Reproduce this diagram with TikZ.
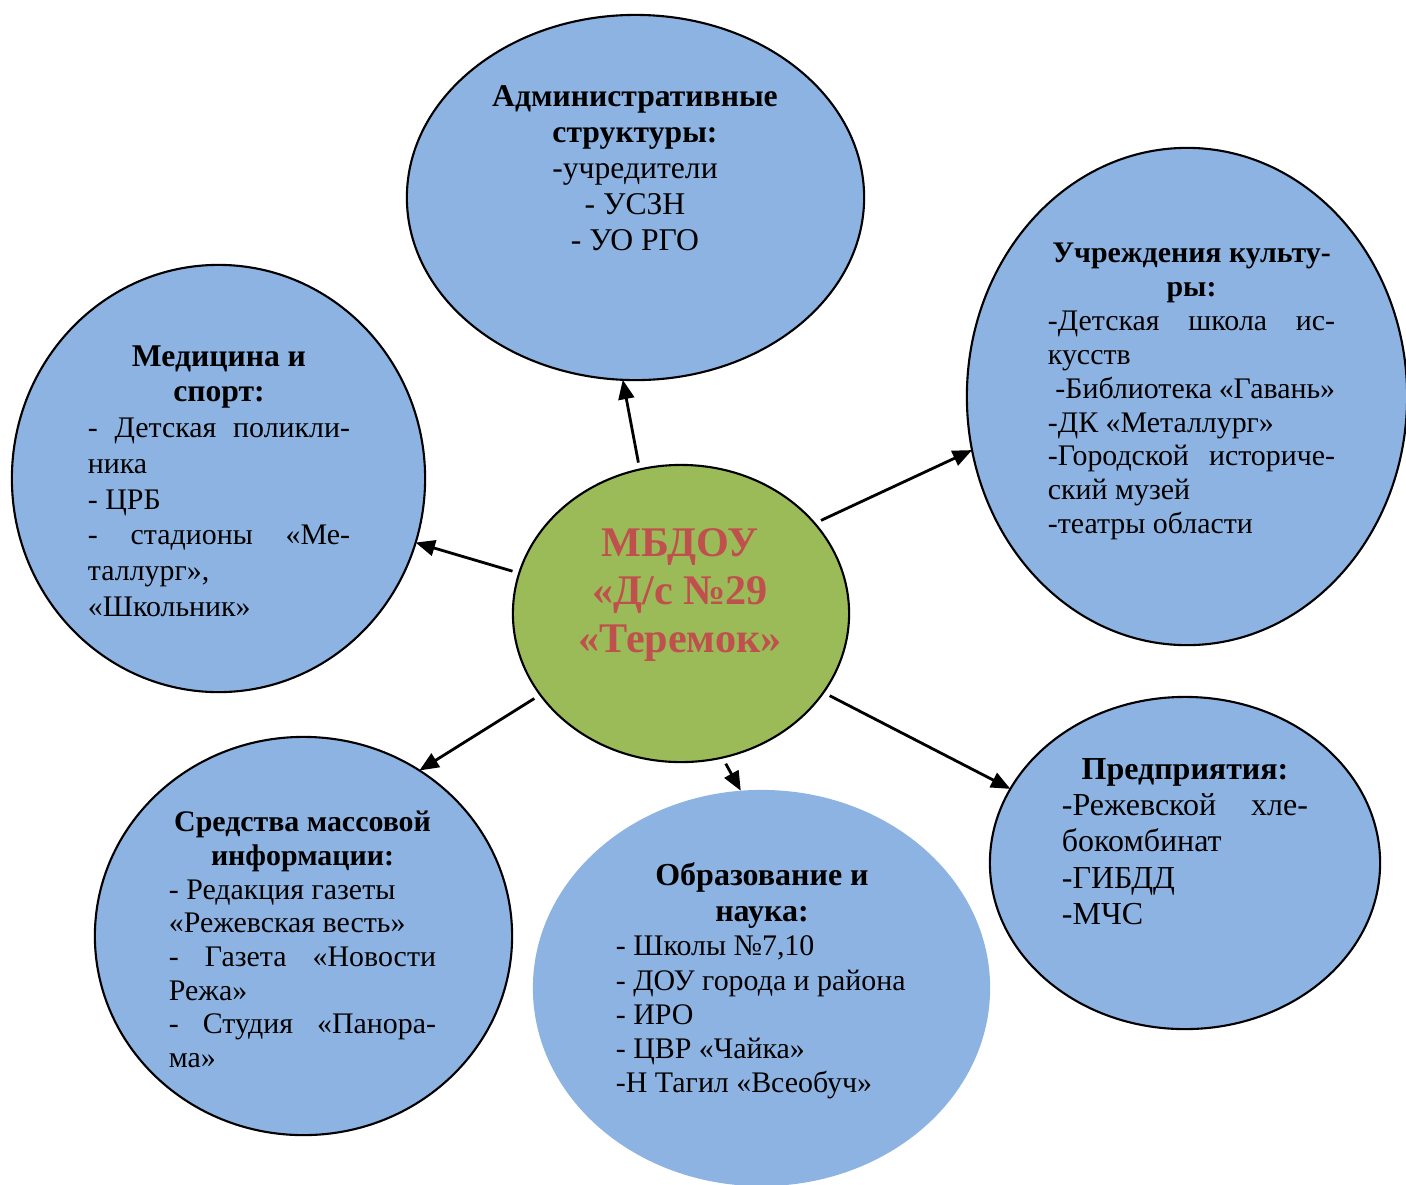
\documentclass[tikz,border=0pt]{standalone}
\usepackage{fontspec}
\setmainfont{Liberation Serif}
\usetikzlibrary{shapes.geometric,arrows.meta}
\definecolor{ovalblue}{RGB}{141,179,226}
\definecolor{ovalgreen}{RGB}{155,187,89}
\definecolor{titlered}{RGB}{192,80,77}
\hbadness=10000

\begin{document}
\begin{tikzpicture}[x=0.01cm,y=-0.01cm,
  oval/.style={ellipse,draw,line width=0.6pt,fill=ovalblue,inner sep=0pt,outer sep=0pt},
  txt/.style={text width=#1,align=justify,inner sep=0pt},
  link/.style={line width=0.8pt,shorten <=2pt,-{Triangle[length=5.5pt,width=4.5pt]}}]
\useasboundingbox (0,0) rectangle (1406,1184);

\node [oval,minimum width=4.57cm,minimum height=3.65cm] (adm) at (635.5,197.5) {};
\node [oval,minimum width=4.40cm,minimum height=4.97cm] (cult) at (1187,396.5) {};
\node [oval,minimum width=4.13cm,minimum height=4.27cm] (med) at (218.5,478.5) {};
\node [oval,minimum width=4.17cm,minimum height=3.98cm] (smi) at (303.5,936) {};
\node [oval,draw=none,minimum width=4.57cm,minimum height=3.96cm] (edu) at (761.5,988) {};
\node [oval,minimum width=3.90cm,minimum height=3.32cm] (pred) at (1185,863) {};
\node [oval,fill=ovalgreen,minimum width=3.36cm,minimum height=2.97cm] (mbdou) at (681,613.5) {};

\node [align=center,inner sep=0pt,font=\fontsize{9}{10.24}\selectfont] (adm-t) at (635,168)
  {\textbf{Административные}\\\textbf{структуры:}\\-учредители\\- УСЗН\\- УО РГО};
\node [txt=2.87cm,font=\fontsize{8.5}{9.64}\selectfont] (cult-t) at (1191.5,391.5)
  {{\centering\bfseries Учреждения культу-\\ры:\par}
   -Детская школа ис-\linebreak кусств\\
   \hspace*{.25em}-Библиотека «Гавань»\\
   -ДК «Металлург»\\
   -Городской историче-\linebreak ский музей\\
   -театры области};
\node [txt=2.62cm,font=\fontsize{8.5}{10.16}\selectfont] (med-t) at (219,481)
  {{\centering\fontsize{9}{10.16}\selectfont\bfseries Медицина и\\спорт:\par}
   - Детская поликли-\linebreak ника\\
   - ЦРБ\\
   - стадионы «Ме-\linebreak таллург»,\\
   «Школьник»};
\node [txt=2.67cm,font=\fontsize{8.5}{9.56}\selectfont] (smi-t) at (302.5,939.5)
  {{\centering\bfseries Средства массовой\\информации:\par}
   - Редакция газеты\\
   «Режевская весть»\\
   - Газета «Новости\linebreak Режа»\\
   - Студия «Панора-\linebreak ма»};
\node [txt=2.92cm,font=\fontsize{8.5}{9.76}\selectfont] (edu-t) at (762,981)
  {{\centering\fontsize{9.1}{10.2}\selectfont\bfseries Образование и\\наука:\par}
   - Школы №7,10\\
   - ДОУ города и района\\
   - ИРО\\
   - ЦВР «Чайка»\\
   -Н Тагил «Всеобуч»};
\node [txt=2.46cm,font=\fontsize{9.1}{10.31}\selectfont] (pred-t) at (1185,841.5)
  {{\centering\bfseries Предприятия:\par}
   -Режевской хле-\linebreak бокомбинат\\
   -ГИБДД\\
   -МЧС};
\node [align=center,inner sep=0pt,text=titlered,font=\fontsize{12}{13.66}\selectfont\bfseries] (mbdou-t) at (680,595)
  {МБДОУ\\«Д/с №29\\«Теремок»};

\draw [link] (mbdou.106) -- (adm.266);
\draw [link] (mbdou.34) -- (cult.194);
\draw [link] (mbdou.166) -- (med.-18);
\draw [link] (mbdou.210) -- (smi.55);
\draw [link] (mbdou.286) -- (edu.96);
\draw [link] (mbdou.-29) -- (pred.157);
\end{tikzpicture}
\end{document}
